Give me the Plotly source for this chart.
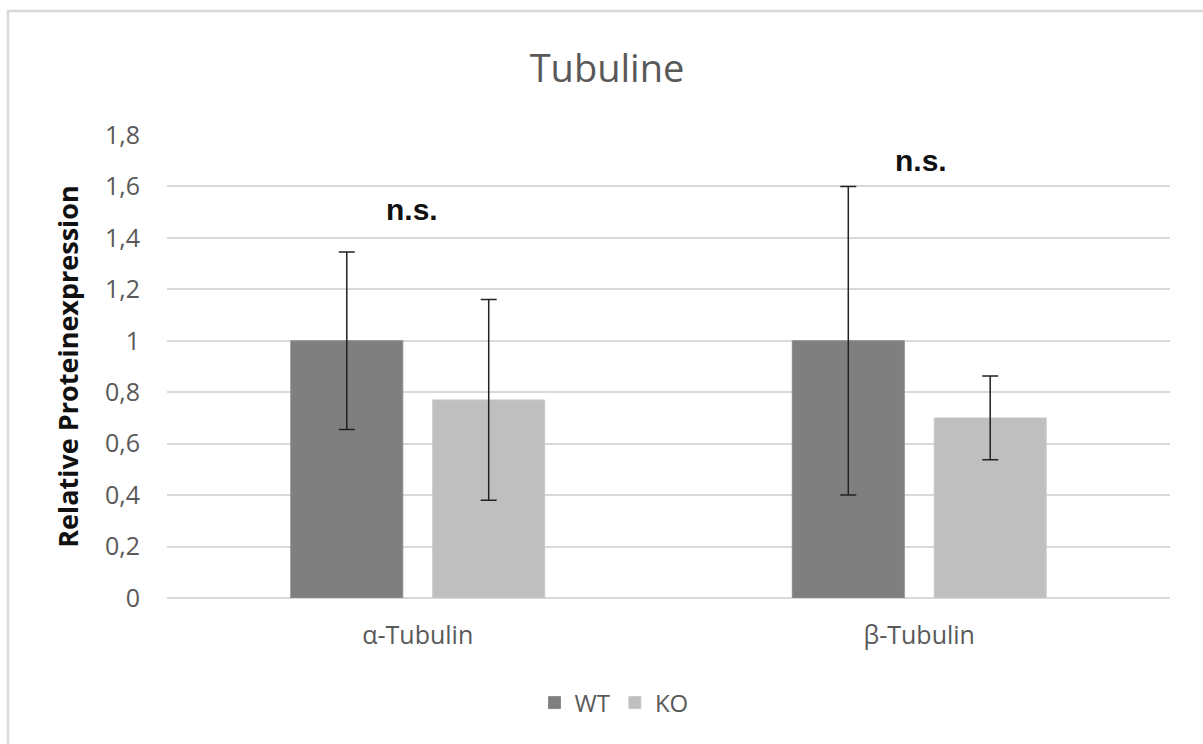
import plotly.graph_objects as go

categories = ["α-Tubulin", "β-Tubulin"]
wt_values = [1.0, 1.0]
wt_errors = [0.345, 0.60]
ko_values = [0.77, 0.70]
ko_errors = [0.39, 0.163]
sig_labels = ["n.s.", "n.s."]
sig_y = [1.51, 1.70]
y_ticks = [0, 0.2, 0.4, 0.6, 0.8, 1.0, 1.2, 1.4, 1.6, 1.8]
y_tick_text = ["0", "0,2", "0,4", "0,6", "0,8", "1", "1,2", "1,4", "1,6", "1,8"]

W, H = 1203, 744
L, R, T, B = 167, 33, 135, 146
FONT = "'Open Sans', Lato, sans-serif"

fig = go.Figure()
fig.add_trace(go.Bar(
    name="WT", x=categories, y=wt_values,
    marker=dict(color="#7f7f7f", line=dict(color="#8a8a8a", width=1)),
    error_y=dict(type="data", array=wt_errors, visible=True,
                 color="#222222", thickness=1.5, width=8),
))
fig.add_trace(go.Bar(
    name="KO", x=categories, y=ko_values,
    marker=dict(color="#bfbfbf", line=dict(color="#c8c8c8", width=1)),
    error_y=dict(type="data", array=ko_errors, visible=True,
                 color="#222222", thickness=1.5, width=8),
))

for cat, lab, yy in zip(categories, sig_labels, sig_y):
    fig.add_annotation(x=cat, y=yy, text=f"<b>{lab}</b>", showarrow=False,
                       xshift=-6 if cat == categories[0] else 2,
                       font=dict(family="Arial, 'Liberation Sans', sans-serif", size=30, color="#111111"))

pw = W - L - R
ph = H - T - B
# outer frame (left and top edges visible)
fig.add_shape(type="rect", xref="paper", yref="paper",
              x0=(8 - L) / pw, x1=(W + 20 - L) / pw,
              y0=(H - B - (H + 20)) / ph, y1=(H - B - 11) / ph,
              line=dict(color="#d9d9d9", width=2.5), fillcolor="rgba(0,0,0,0)", layer="below")

fig.update_layout(
    width=W, height=H,
    margin=dict(l=L, r=R, t=T, b=B),
    paper_bgcolor="white", plot_bgcolor="white",
    barmode="group", bargap=0.434, bargroupgap=0.211,
    title=dict(text="Tubuline", x=607 / W, xanchor="center", y=1 - 69 / H, yanchor="middle",
               font=dict(family=FONT, size=38, color="#595959")),
    font=dict(family=FONT, color="#595959"),
    showlegend=True,
    legend=dict(orientation="h", x=(614 - L) / pw, xanchor="center", y=(598 - 703) / ph, yanchor="middle",
                font=dict(family=FONT, size=24, color="#595959"), itemwidth=30,
                traceorder="normal"),
    xaxis=dict(showline=False, ticks="", tickfont=dict(family=FONT, size=25, color="#595959"),
               showgrid=False, ticklabelstandoff=20),
    yaxis=dict(range=[0, 1.8], tickvals=y_ticks, ticktext=y_tick_text,
               tickfont=dict(family=FONT, size=25, color="#595959"),
               showgrid=True, gridcolor="#d9d9d9", gridwidth=1.5,
               zeroline=True, zerolinecolor="#d9d9d9", zerolinewidth=1.5,
               ticks="", ticklen=0, showline=False, ticklabelstandoff=26,
               title=dict(text="<b>Relative Proteinexpression</b>", standoff=18,
                          font=dict(family=FONT, size=27, color="#111111"))),
)

fig.write_html("out.html")
